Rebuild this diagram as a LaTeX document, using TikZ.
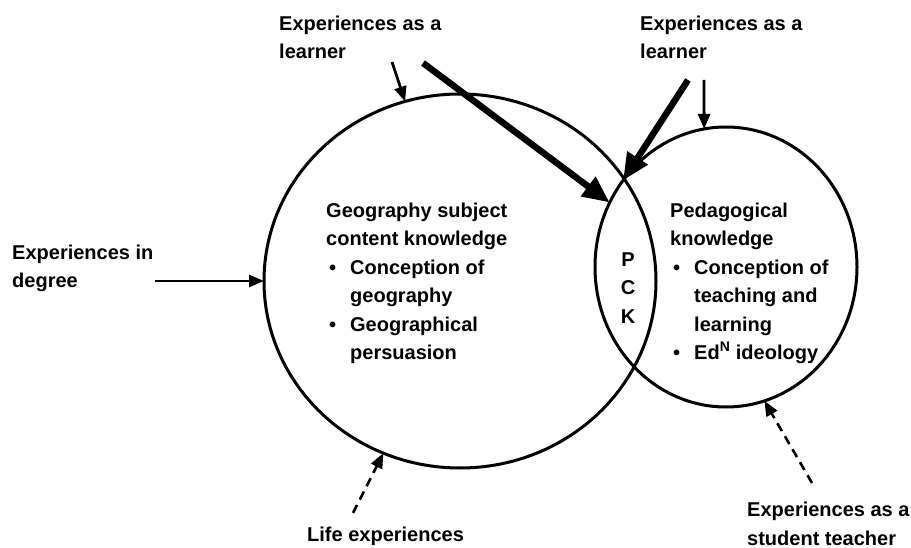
\documentclass[tikz,border=0pt]{standalone}
\usepackage{fontspec}
\setmainfont{Liberation Sans}
\usetikzlibrary{shapes, arrows.meta}
\tikzstyle{knowCircle} = [draw, ellipse, line width=3pt,
    inner sep=0pt, outer sep=0pt]
\tikzstyle{lbl} = [inner sep=0pt, anchor=base west, align=left,
    font=\fontsize{20}{28.5}\selectfont\bfseries]
\tikzstyle{thinArrow} = [line width=2.8pt, -{Triangle[length=15pt, width=12pt]}]
\tikzstyle{thickArrow} = [line width=6.5pt, -{Triangle[length=27pt, width=23pt]}]
\tikzstyle{dashArrow} = [line width=2.6pt, dash pattern=on 9pt off 6pt,
    -{Triangle[length=15pt, width=12pt]}]
\newcommand{\blt}{\makebox[24pt][l]{\hspace{3pt}\textbullet}}
\newcommand{\ind}{\hspace*{24pt}}

\begin{document}
\begin{tikzpicture}[x=1pt, y=-1pt]
    \useasboundingbox (0,0) rectangle (911,548);
        \node[knowCircle, minimum width=392pt, minimum height=374pt] (scknow) at (460,281) {};
        \node[knowCircle, minimum width=262pt, minimum height=280pt] (pedknow) at (726,267) {};

        % base anchor = last line
        \node[lbl] (geo) at (326,359.5) {Geography subject\\content knowledge\\\blt Conception of\\\ind geography\\\blt Geographical\\\ind persuasion};
        \node[lbl] (ped) at (670,359.5) {Pedagogical\\knowledge\\\blt Conception of\\\ind teaching and\\\ind learning\\\blt Ed\textsuperscript{N} ideology};
        \node[lbl, anchor=center, align=center] (pck) at (628,288) {P\\C\\K};

        \node[lbl] (learnL) at (279,59) {Experiences as a\\learner};
        \node[lbl] (learnR) at (640,59) {Experiences as a\\learner};
        \node[lbl] (degree) at (12,288) {Experiences in\\degree};
        \node[lbl] (life) at (307,541) {Life experiences};
        \node[lbl] (student) at (747,545) {Experiences as a\\student teacher};

        \coordinate (lsA) at (392,62);
        \coordinate (lsB) at (423,63);
        \coordinate (rsA) at (688,80);
        \coordinate (rsB) at (704,80);
        \coordinate (dgS) at (155,281);
        \coordinate (lfS) at (353,513);
        \coordinate (stS) at (812,483);

            \draw[thinArrow] (lsA) -- (scknow.107);
            \draw[thickArrow] (lsB) -- (pedknow.151);
            \draw[thickArrow] (rsA) -- (pedknow.140);
            \draw[thinArrow] (rsB) -- (pedknow.99);
            \draw[thinArrow] (dgS) -- (scknow.180);
            \draw[dashArrow] (lfS) -- (scknow.246);
            \draw[dashArrow] (stS) -- (pedknow.286);
\end{tikzpicture}
\end{document}
